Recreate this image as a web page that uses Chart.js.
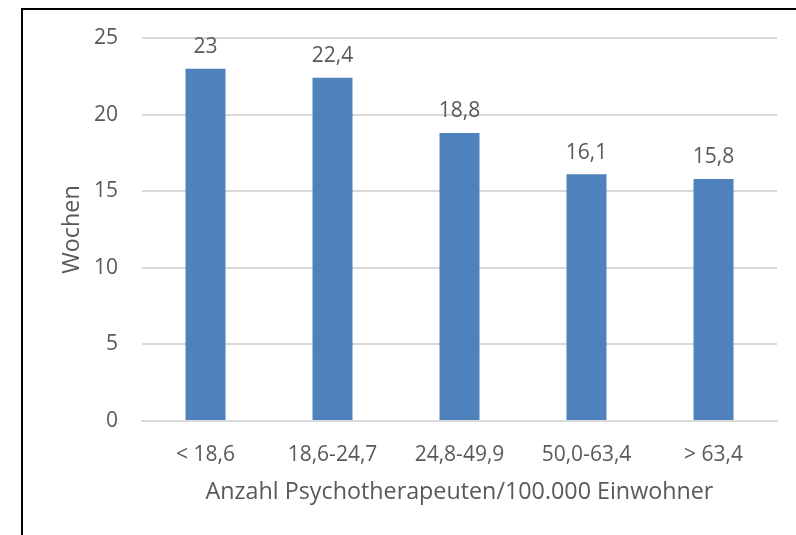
<!DOCTYPE html>
<html>
<head>
<meta charset="utf-8">
<script src="https://cdn.jsdelivr.net/npm/chart.js@4"></script>
<style>
  html, body { margin: 0; padding: 0; background: #fff; }
  #wrap { width: 796px; height: 535px; }
</style>
</head>
<body>
<div id="wrap"><canvas id="chart" width="796" height="535"></canvas></div>
<script>
const categories = ['< 18,6', '18,6-24,7', '24,8-49,9', '50,0-63,4', '> 63,4'];
const weeks = [23, 22.4, 18.8, 16.1, 15.8];
const yTicks = [0, 5, 10, 15, 20, 25];

const fontFamily = '"Open Sans", sans-serif';
const textColor = '#595959';

// frame around the chart, cut off on the right and bottom like in the screenshot
const framePlugin = {
    id: 'frame',
    beforeDraw(chart) {
        const c = chart.ctx;
        c.save();
        c.strokeStyle = '#000';
        c.lineWidth = 2;
        c.strokeRect(22, 9, 900, 700);
        c.restore();
    }
};

// value labels above the bars, with comma decimals
const valueLabels = {
    id: 'valueLabels',
    afterDatasetsDraw(chart) {
        const c = chart.ctx;
        const meta = chart.getDatasetMeta(0);
        c.save();
        c.font = '21px ' + fontFamily;
        c.fillStyle = textColor;
        c.textAlign = 'center';
        c.textBaseline = 'bottom';
        meta.data.forEach((bar, i) => {
            const txt = String(weeks[i]).replace('.', ',');
            c.fillText(txt, bar.x, bar.y - 11);
        });
        c.restore();
    }
};

new Chart(document.getElementById('chart').getContext('2d'), {
    type: 'bar',
    data: {
        labels: categories,
        datasets: [{
            data: weeks,
            backgroundColor: '#4F81BD',
            borderWidth: 0,
            categoryPercentage: 1,
            barPercentage: 0.315,
        }],
    },
    options: {
        responsive: false,
        animation: false,
        layout: {
            padding: { left: 0, right: 19, top: 38, bottom: 0 },
        },
        plugins: {
            legend: { display: false },
            tooltip: { enabled: false },
        },
        scales: {
            x: {
                grid: { display: false, drawTicks: false },
                border: { display: true, color: '#D9D9D9', width: 2 },
                ticks: {
                    color: textColor,
                    font: { family: fontFamily, size: 21 },
                    padding: 21,
                    maxRotation: 0,
                },
                title: {
                    display: true,
                    text: 'Anzahl Psychotherapeuten/100.000 Einwohner',
                    color: textColor,
                    font: { family: fontFamily, size: 23.3 },
                    padding: { top: 4, bottom: 29 },
                },
                afterFit(scale) { scale.height = 114; },
            },
            y: {
                min: 0,
                max: 25,
                afterBuildTicks(scale) { scale.ticks = yTicks.map(v => ({ value: v })); },
                grid: { color: '#D9D9D9', lineWidth: 2, drawTicks: false },
                border: { display: false },
                ticks: {
                    color: textColor,
                    font: { family: fontFamily, size: 21 },
                    padding: 24,
                },
                title: {
                    display: true,
                    text: 'Wochen',
                    color: textColor,
                    font: { family: fontFamily, size: 23.3 },
                    padding: { top: 58, bottom: 0 },
                },
                afterFit(scale) { scale.width = 142; },
            },
        },
    },
    plugins: [framePlugin, valueLabels],
});
</script>
</body>
</html>
